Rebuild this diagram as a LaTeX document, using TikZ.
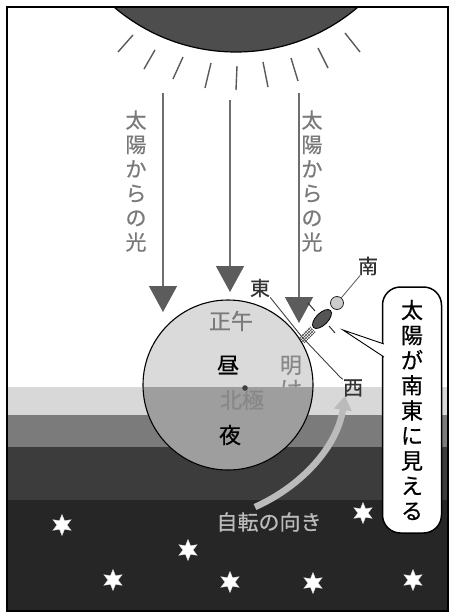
\documentclass[tikz,border=0pt]{standalone}
\usepackage{fontspec}
\setmainfont{Noto Sans CJK JP}[FakeBold=0.6]
\usetikzlibrary{arrows.meta,shapes.geometric,patterns}

\definecolor{sungray}{HTML}{4D4D4D}
\definecolor{raygray}{HTML}{5A5A5A}
\definecolor{shaftgray}{HTML}{6E6E6E}
\definecolor{headgray}{HTML}{5C5C5C}
\definecolor{textgray}{HTML}{7A7A7A}
\definecolor{bandA}{HTML}{D8D8D8}
\definecolor{bandB}{HTML}{7B7B7B}
\definecolor{bandC}{HTML}{3C3C3C}
\definecolor{bandD}{HTML}{262626}
\definecolor{dayside}{HTML}{DADADA}
\definecolor{nightside}{HTML}{9E9E9E}
\definecolor{poletext}{HTML}{888888}
\definecolor{spin}{HTML}{BBBBBB}
\definecolor{bodygray}{HTML}{555555}

\begin{document}
\begin{tikzpicture}[x=1pt,y=-1pt,
  ray/.style={draw=raygray,line width=1.4pt},
  lightarrow/.style={draw=shaftgray,line width=1.3pt,
    -{Triangle[width=28pt,length=26pt,color=headgray]}},
  lbl/.style={inner sep=0pt,font=\fontsize{20}{22}\selectfont,text=black!80},
  globetext/.style={inner sep=0pt,font=\fontsize{22}{24}\selectfont},
  vlabel/.style={inner sep=0pt,align=center,text=textgray,
    font=\fontsize{21}{24.4}\selectfont},
  starmark/.style={star,star points=6,star point ratio=2.1,minimum size=21pt,
    inner sep=0pt,fill=white,draw=white!85!black,line width=0.4pt},
  bubble/.style={draw=black,fill=white,line width=1.5pt,rounded corners=18pt,
    minimum width=59pt,minimum height=246pt,inner sep=0pt,align=center,
    font=\fontsize{22}{25.1}\selectfont},
  horizon/.style={draw=black!75,line width=0.9pt},
  spinarrow/.style={draw=spin,line width=6.5pt,
    -{Triangle[width=17pt,length=14pt]}},
]
\useasboundingbox (0,0) rectangle (449,614);

% sky and the horizontal bands of the night side
\fill[white] (7,7) rectangle (449,387);
\fill[bandA] (7,387) rectangle (449,415);
\fill[bandB] (7,415) rectangle (449,447);
\fill[bandC] (7,447) rectangle (449,500);
\fill[bandD] (7,500) rectangle (449,611);

% the sun at the top edge
\begin{scope}
  \clip (7,7) rectangle (449,611);
  \filldraw[fill=sungray,draw=black,line width=1.2pt] (236,-136) circle (188pt);
\end{scope}

% sun rays
\draw[ray] (118,52) -- (133,35);
\draw[ray] (144,69) -- (155,50);
\draw[ray] (173,79) -- (183,57);
\draw[ray] (205,88) -- (211,63);
\draw[ray] (236,90) -- (237,66);
\draw[ray] (268,87) -- (263,62);
\draw[ray] (298,81) -- (291,58);
\draw[ray] (328,68) -- (318,48);
\draw[ray] (360,52) -- (345,33);

% sunlight arrows
\coordinate (aL0) at (163,93);  \coordinate (aL1) at (163,312);
\coordinate (aM0) at (230,100); \coordinate (aM1) at (230,292);
\coordinate (aR0) at (299,93);  \coordinate (aR1) at (299,323);
\draw[lightarrow] (aL0) -- (aL1);
\draw[lightarrow] (aM0) -- (aM1);
\draw[lightarrow] (aR0) -- (aR1);

\node[vlabel] (lightL) at (136,181) {太\\陽\\か\\ら\\の\\光};
\node[vlabel] (lightR) at (312,181) {太\\陽\\か\\ら\\の\\光};

% stars
\node[starmark] (s1) at (62,525) {};
\node[starmark] (s2) at (188,550) {};
\node[starmark] (s3) at (113,580) {};
\node[starmark] (s4) at (230,582) {};
\node[starmark] (s5) at (313,583) {};
\node[starmark] (s6) at (363,513) {};
\node[starmark] (s7) at (413,580) {};

% the earth: day half
\coordinate (gc) at (228,385);
\fill[dayside] (gc) circle (85pt);
\node[globetext,text=textgray] (noon) at (231,321) {正午};
\node[globetext,text=black] (day) at (228,365) {昼};
\node[globetext,text=poletext,align=center,font=\fontsize{22}{24}\selectfont]
  (dawn) at (291,377) {明\\け};
% night half
\begin{scope}
  \clip (100,387) rectangle (330,480);
  \fill[nightside] (gc) circle (85pt);
\end{scope}
\node[globetext,text=poletext] (pole) at (242,400) {北極};
\node[globetext,text=black] (night) at (230,435) {夜};
\fill[black!75] (245,388) circle (2.8pt);
\draw[black,line width=1.1pt] (gc) circle (85pt);

% horizon line of the observer
\node[lbl] (east) at (260,288) {東};
\node[lbl] (west) at (353,388) {西};
\node[lbl] (south) at (368,266) {南};
\coordinate (feet) at (302,337);
\coordinate (hz) at (340,377);
\draw[horizon] (east.south east) -- (feet) -- (hz) -- (west.north west);

% rotation of the earth
\coordinate (rotS) at (255,507);
\coordinate (rotE) at (345,396);
\draw[spinarrow] (rotS) .. controls (300,487) and (337,448) .. (rotE);
\node[inner sep=0pt,text=spin,font=\fontsize{21}{23}\selectfont]
  (spinlabel) at (269,522) {自転の向き};

% the observer
\fill[pattern=crosshatch,pattern color=black!70,rotate around={45:(307,335)}]
  (299,331) rectangle (315,339);
\filldraw[fill=bodygray,draw=black,line width=0.8pt,rotate around={45:(322,319)}]
  (322,319) ellipse [x radius=12pt,y radius=6pt];
\draw[black!80,line width=1pt] (315,311) -- (308,303);
\draw[black!80,line width=1pt] (329,326) -- (335,333);
\node[circle,fill=gray!40,draw=black!85,line width=0.8pt,minimum size=13pt,
  inner sep=0pt] (head) at (337,303) {};
\draw[black!65,line width=0.8pt] (head) -- (south);

% speech bubble
\node[bubble] (bub) at (412,410) {太\\陽\\が\\南\\東\\に\\見\\え\\る};
\coordinate (tailtip) at (343,330);
\coordinate (tailA) at (384,344);
\coordinate (tailB) at (384,357);
\fill[white] (tailtip) -- (tailA) -- (tailB) -- cycle;
\draw[black,line width=0.9pt] (tailA) -- (tailtip) -- (tailB);

% frame
\draw[black,line width=2pt] (7,7) rectangle (448,611);
\end{tikzpicture}
\end{document}
